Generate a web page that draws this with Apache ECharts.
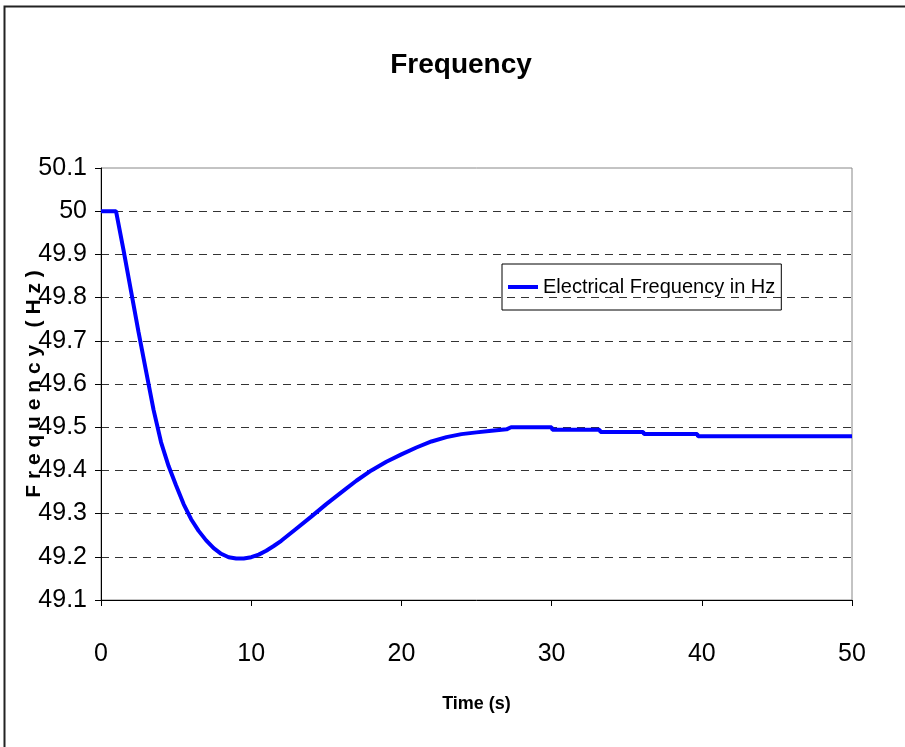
<!DOCTYPE html>
<html>
<head>
<meta charset="utf-8">
<style>
  html, body { margin: 0; padding: 0; background: #fff; }
  #chart { width: 905px; height: 747px; }
</style>
<script src="https://cdn.jsdelivr.net/npm/echarts@6/dist/echarts.min.js"></script>
</head>
<body>
<div id="chart"></div>
<script>
// time in seconds and frequency in Hz
const timeS = [0, 1, 1.5, 2, 2.5, 3, 3.5, 4, 4.5, 5, 5.5, 6, 6.5, 7, 7.5, 8, 8.5, 9, 9.5, 10,
  10.5, 11, 11.5, 12, 13, 14, 15, 16, 17, 18, 19, 20, 21, 22, 23, 24, 25, 26, 27, 27.3,
  30, 30.05, 33.2, 33.25, 36.1, 36.15, 39.7, 39.75, 50]
const freqHz = [50, 50, 49.91, 49.815, 49.72, 49.63, 49.54, 49.465, 49.41, 49.365, 49.322, 49.287, 49.26, 49.238, 49.22, 49.207, 49.199, 49.196, 49.196, 49.199,
  49.205, 49.214, 49.225, 49.237, 49.265, 49.293, 49.322, 49.349, 49.376, 49.4, 49.42, 49.437, 49.453, 49.467, 49.477, 49.484, 49.488, 49.492, 49.495, 49.5,
  49.5, 49.494, 49.494, 49.489, 49.489, 49.484, 49.484, 49.479, 49.479]
const xTicks = [0, 10, 20, 30, 40, 50]
const yMin = 49.1
const yMax = 50.1

const narrow = '"Liberation Sans Narrow", "Arial Narrow", "Liberation Sans", sans-serif'

const chart = echarts.init(document.getElementById('chart'))

chart.setOption({
  animation: false,
  title: {
    text: 'Frequency',
    left: 456,
    textAlign: 'center',
    top: 46,
    textStyle: { fontFamily: narrow, fontWeight: 'bold', fontSize: 28, color: '#000' }
  },
  legend: {
    data: ['Electrical Frequency in Hz'],
    left: 502,
    top: 264,
    padding: [13, 6, 13, 6],
    borderColor: '#000',
    borderWidth: 1,
    icon: 'rect',
    itemWidth: 30,
    itemHeight: 4,
    itemGap: 6,
    textStyle: { fontFamily: narrow, fontSize: 20, color: '#000' }
  },
  grid: {
    left: 101,
    top: 168,
    right: 53,
    bottom: 147,
    outerBoundsMode: 'none',
    show: true,
    borderColor: '#888',
    borderWidth: 1
  },
  xAxis: {
    type: 'value',
    min: 0,
    max: 50,
    interval: 10,
    name: 'Time (s)',
    nameLocation: 'middle',
    nameGap: 95,
    nameTextStyle: { fontFamily: narrow, fontWeight: 'bold', fontSize: 18, color: '#000' },
    axisLine: { lineStyle: { color: '#000', width: 1 } },
    axisTick: { length: 6, lineStyle: { color: '#000' } },
    axisLabel: {
      margin: 42,
      fontFamily: narrow,
      fontSize: 25,
      color: '#000',
      formatter: v => (xTicks.includes(v) ? String(v) : '')
    },
    splitLine: { show: false }
  },
  yAxis: {
    type: 'value',
    min: yMin,
    max: yMax,
    interval: 0.1,
    name: 'F r e q u e n c y   ( H z )',
    nameLocation: 'middle',
    nameRotate: 90,
    nameGap: 56,
    nameMoveOverlap: false,
    nameTextStyle: { fontFamily: '"Liberation Sans", Arial, sans-serif', fontWeight: 'bold', fontSize: 21, color: '#000' },
    axisLine: { show: true, lineStyle: { color: '#000', width: 1 } },
    axisTick: { show: true, length: 6, lineStyle: { color: '#000' } },
    axisLabel: {
      margin: 14,
      fontFamily: narrow,
      fontSize: 25,
      color: '#000',
      formatter: v => String(Math.round(v * 10) / 10)
    },
    splitLine: {
      show: true,
      showMinLine: false,
      showMaxLine: false,
      lineStyle: { color: '#333', type: [8, 6], width: 1 }
    }
  },
  series: [
    {
      name: 'Electrical Frequency in Hz',
      type: 'line',
      showSymbol: false,
      color: '#0000ff',
      lineStyle: { color: '#0000ff', width: 4 },
      data: timeS.map((t, i) => [t, freqHz[i]])
    }
  ],
  graphic: [
    {
      type: 'rect',
      shape: { x: 4.5, y: 6.5, width: 1000, height: 1000 },
      style: { fill: 'none', stroke: '#222', lineWidth: 2 },
      silent: true
    }
  ]
})
</script>
</body>
</html>
